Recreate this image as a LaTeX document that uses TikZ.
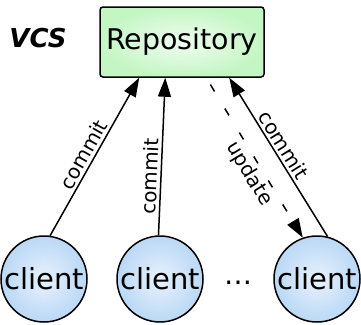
\documentclass[tikz,border=0pt]{standalone}
\usepackage{fontspec}
\setmainfont{DejaVu Sans}
\usetikzlibrary{arrows.meta}
\definecolor{boxout}{RGB}{196,246,196}
\definecolor{boxin}{RGB}{240,253,240}
\definecolor{cliout}{RGB}{186,216,246}
\definecolor{cliin}{RGB}{232,242,253}
\tikzset{
  repobox/.style={draw, line width=1.5pt, rounded corners=3pt, inner color=boxin, outer color=boxout,
    minimum width=164pt, minimum height=70pt, inner sep=0pt, font=\fontsize{28.5}{30}\selectfont},
  clientnode/.style={circle, draw, line width=1.5pt, minimum size=86pt, inner sep=0pt,
    inner color=cliin, outer color=cliout, font=\fontsize{29}{31}\selectfont},
  tipstyle/.style={-{Triangle[length=19pt,width=13pt]}},
  commitline/.style={line width=1.5pt, tipstyle},
  updline/.style={line width=1.5pt, dash pattern=on 8pt off 20pt, dash phase=20pt, tipstyle},
  lbl/.style={sloped, font=\fontsize{20}{22}\selectfont, inner sep=2.5pt}
}
\begin{document}
\begin{tikzpicture}[x=1pt,y=-1pt]
\useasboundingbox (0,0) rectangle (361,324);
\node[repobox] (repo) at (182,42) {Repository};
\node[font=\fontsize{26}{28}\selectfont\bfseries\itshape] (vcs) at (38,38) {VCS};
\node[clientnode] (c1) at (44,279) {client};
\node[clientnode] (c2) at (160,279) {client};
\node[clientnode] (c3) at (317,279) {client};
\node[font=\fontsize{28}{30}\selectfont] (dots) at (238,283) {…};
\draw[commitline] (c1.82) -- ([xshift=40pt]repo.south west) node[lbl, pos=0.48, above] {commit};
\draw[commitline] (c2.92) -- ([xshift=66pt]repo.south west) node[lbl, pos=0.37, above] {commit};
\draw[commitline] (c3.76) -- ([xshift=130pt]repo.south west) node[lbl, pos=0.54, above] {commit};
\draw[updline] ([xshift=107pt]repo.south west) -- (c3.109) node[lbl, pos=0.56, below] {update};
\end{tikzpicture}
\end{document}
